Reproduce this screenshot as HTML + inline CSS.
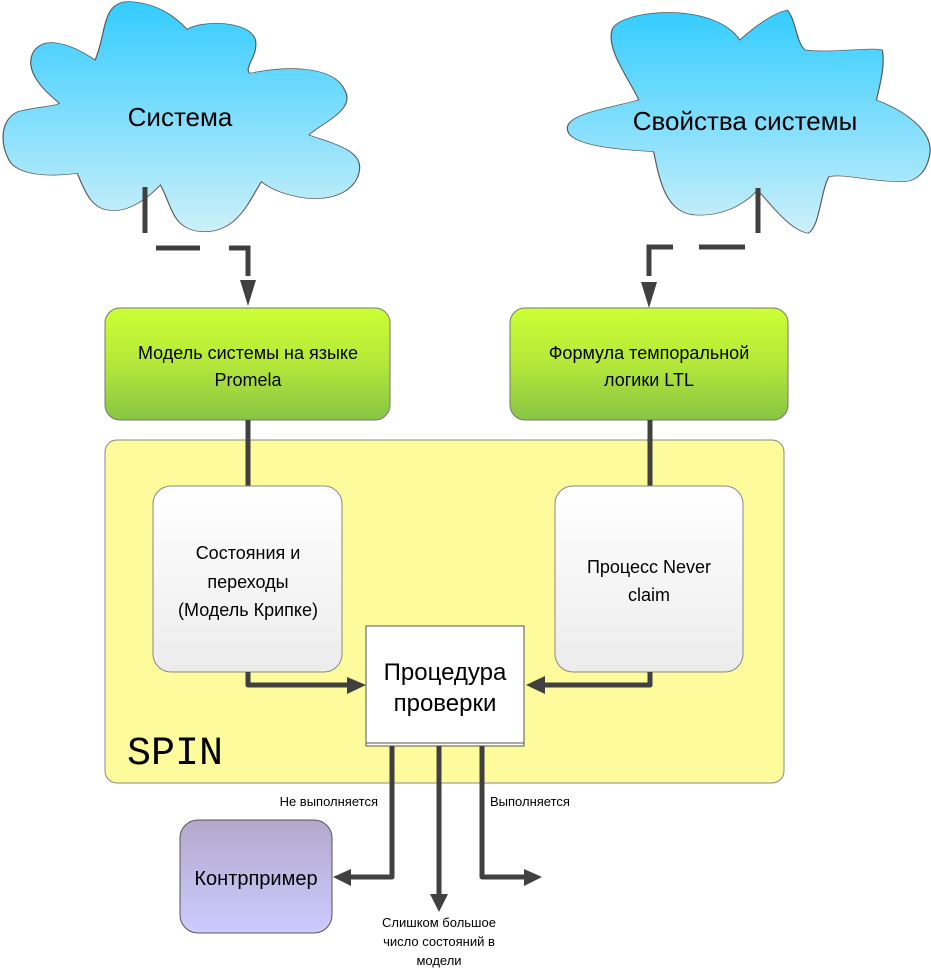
<!DOCTYPE html>
<html><head><meta charset="utf-8"><style>
html,body{margin:0;padding:0;background:#fff;}
svg{display:block;font-family:"Liberation Sans",sans-serif;}
</style></head><body>
<svg width="931" height="970" viewBox="0 0 931 970" xmlns="http://www.w3.org/2000/svg">
<defs>
<linearGradient id="cl" x1="0" y1="0" x2="0" y2="1"><stop offset="0" stop-color="#33ccff"/><stop offset="1" stop-color="#cdf0f9"/></linearGradient>
<linearGradient id="gr" x1="0" y1="0" x2="0" y2="1"><stop offset="0" stop-color="#ccff33"/><stop offset="0.5" stop-color="#b4e83a"/><stop offset="1" stop-color="#88c444"/></linearGradient>
<linearGradient id="wh" x1="0" y1="0" x2="0" y2="1"><stop offset="0" stop-color="#ffffff"/><stop offset="1" stop-color="#ececec"/></linearGradient>
<linearGradient id="pu" x1="0" y1="0" x2="0" y2="1"><stop offset="0" stop-color="#b4a8cc"/><stop offset="1" stop-color="#ccccff"/></linearGradient>
</defs>
<g transform="scale(0.5942,0.3333)" fill="url(#cl)" stroke="#555" stroke-width="2">
<path d="M315,88 C340,60 420,60 430,120 C435,170 410,200 420,220 C470,200 560,190 580,270 C600,330 540,370 520,405 C560,430 610,450 605,510 C600,580 550,610 500,590 C470,580 450,560 440,545 C420,600 400,700 340,695 C290,690 290,620 270,555 C240,610 210,640 180,630 C150,620 140,560 130,520 C90,530 30,530 15,480 C0,430 0,360 30,335 C60,320 90,320 100,310 C80,280 40,220 55,160 C70,110 110,120 160,180 C180,100 170,0 220,5 C270,10 300,60 315,88 Z"/>
<path d="M1075,300 C1060,240 1020,150 1030,90 C1040,30 1200,0 1245,120 C1270,80 1300,40 1325,30 C1340,60 1340,130 1355,150 C1400,160 1470,140 1485,150 C1490,200 1480,260 1475,300 C1520,330 1570,390 1565,460 C1560,520 1540,545 1520,545 C1460,545 1420,520 1395,530 C1380,580 1380,680 1360,700 C1330,690 1300,620 1275,570 C1250,620 1210,650 1170,645 C1120,640 1110,540 1100,455 C1050,450 960,440 955,390 C950,345 1010,330 1075,300 Z"/>
</g>
<text x="180" y="126" font-size="26" text-anchor="middle">Система</text>
<text x="745" y="130" font-size="26" text-anchor="middle">Свойства системы</text>
<g stroke="#404040" stroke-width="5" fill="none">
<path d="M145,187 V233"/><path d="M156,248 H200"/><path d="M229,248 H248 V276"/>
<path d="M758,188 V233"/><path d="M699,247 H745"/><path d="M673,247 H649 V276"/>
</g>
<g fill="#404040"><polygon points="240,280 256,280 248,306"/><polygon points="641,282 657,282 649,308"/></g>
<rect x="105" y="440" width="679" height="343" rx="12" fill="#fdfb9b" stroke="#888" stroke-width="1"/>
<rect x="105" y="308" width="285" height="112" rx="15" fill="url(#gr)" stroke="#777" stroke-width="1"/>
<rect x="510" y="308" width="278" height="112" rx="15" fill="url(#gr)" stroke="#777" stroke-width="1"/>
<text font-size="18" text-anchor="middle"><tspan x="248" y="359">Модель системы на языке</tspan><tspan x="248" y="386">Promela</tspan></text>
<text font-size="18" text-anchor="middle"><tspan x="649" y="359">Формула темпоральной</tspan><tspan x="649" y="386">логики LTL</tspan></text>
<g stroke="#404040" stroke-width="5"><path d="M248,420 V487"/><path d="M650,420 V487"/></g>
<rect x="153" y="486" width="189" height="186" rx="18" fill="url(#wh)" stroke="#888" stroke-width="1"/>
<rect x="555" y="486" width="188" height="186" rx="18" fill="url(#wh)" stroke="#888" stroke-width="1"/>
<text font-size="18" text-anchor="middle"><tspan x="248" y="559">Состояния и</tspan><tspan x="248" y="588">переходы</tspan><tspan x="248" y="616">(Модель Крипке)</tspan></text>
<text font-size="18" text-anchor="middle"><tspan x="649" y="573">Процесс Never</tspan><tspan x="649" y="601">claim</tspan></text>
<rect x="366" y="626" width="158" height="120" fill="#fff" stroke="#555" stroke-width="1"/>
<line x1="366" y1="743" x2="524" y2="743" stroke="#555" stroke-width="1"/>
<text font-size="24" text-anchor="middle"><tspan x="445" y="680">Процедура</tspan><tspan x="445" y="711">проверки</tspan></text>
<text x="127" y="764" font-size="40" font-family="Liberation Mono,monospace">SPIN</text>
<g stroke="#404040" stroke-width="5" fill="none" stroke-linejoin="round">
<path d="M248,672 V685 H350"/><path d="M650,672 V685 H543"/>
<path d="M392,746 V877 H350"/><path d="M439,746 V896"/><path d="M482,746 V877 H526"/>
</g>
<g fill="#404040">
<polygon points="347,677 347,694 366,685"/><polygon points="545,676 545,694 526,685"/>
<polygon points="351,869 351,886 333,877"/><polygon points="430,894 448,894 439,912"/>
<polygon points="524,869 524,886 542,877"/>
</g>
<text x="378" y="806" font-size="13" text-anchor="end">Не выполняется</text>
<text x="490" y="806" font-size="13">Выполняется</text>
<text font-size="13" text-anchor="middle"><tspan x="439" y="927">Слишком большое</tspan><tspan x="439" y="946">число состояний в</tspan><tspan x="439" y="965">модели</tspan></text>
<rect x="180" y="820" width="152" height="113" rx="18" fill="url(#pu)" stroke="#555" stroke-width="1"/>
<text x="256" y="885" font-size="20" text-anchor="middle">Контрпример</text>
</svg>
</body></html>
